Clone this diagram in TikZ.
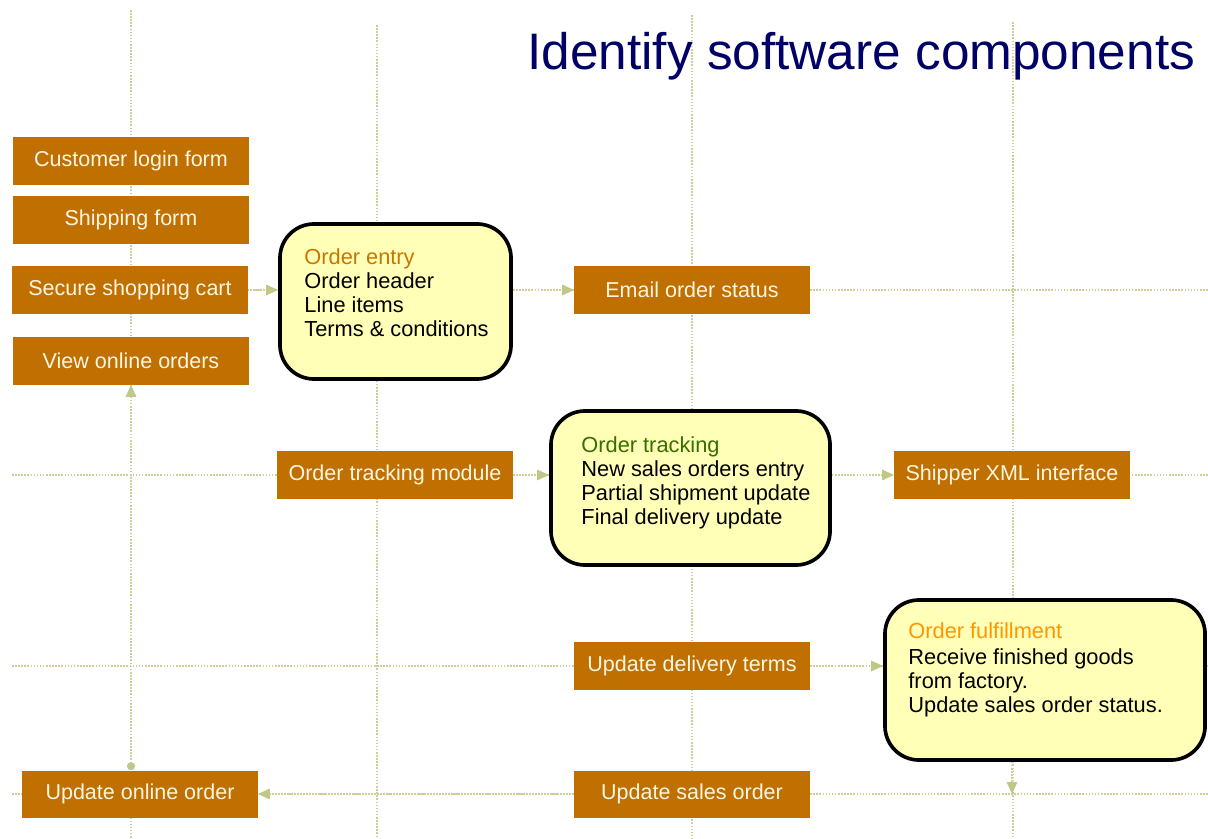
\documentclass[tikz,border=0pt]{standalone}
\usepackage{fontspec}
\setmainfont{Liberation Sans}
\usetikzlibrary{arrows.meta,positioning}

\definecolor{boxorange}{RGB}{192,112,0}
\definecolor{boxtext}{RGB}{255,246,226}
\definecolor{paleyellow}{RGB}{255,255,184}
\definecolor{gridolive}{RGB}{206,206,150}
\definecolor{tipolive}{RGB}{192,200,135}
\definecolor{titlenavy}{RGB}{0,0,102}
\definecolor{entryorange}{RGB}{200,118,0}
\definecolor{trackgreen}{RGB}{55,110,0}
\definecolor{fulfilorange}{RGB}{255,150,0}

\begin{document}
\begin{tikzpicture}[x=0.025cm,y=-0.025cm,
    oliveTip/.tip={Triangle[length=0.3cm,width=0.26cm,color=tipolive]},
    oliveDot/.tip={Circle[length=0.2cm,color=tipolive]},
    component/.style={fill=boxorange,text=boxtext,minimum width=5.875cm,
      minimum height=1.175cm,inner sep=0pt,font=\fontsize{15.3}{18}\selectfont},
    module/.style={draw=black,line width=2.6pt,fill=paleyellow,rounded corners=0.85cm},
    moduletext/.style={inner sep=0pt,align=left,font=\fontsize{15.5}{17.2}\selectfont},
    gridline/.style={draw=gridolive,line width=1.2pt,dash pattern=on 1.1pt off 1.1pt},
    flow/.style={gridline,-{oliveTip}}]

  \useasboundingbox (0,0) rectangle (1208,839);

  % dotted grid behind everything
  \foreach \gx/\gtop in {131/10,377/25,692/15,1013/22}
    \draw[gridline] (\gx,\gtop) -- (\gx,839);
  \foreach \gy in {290,475,666,794}
    \draw[gridline] (12,\gy) -- (1208,\gy);

  \node[anchor=base east,text=titlenavy,font=\fontsize{36.5}{40}\selectfont]
    (title) at (1200,70) {Identify software components};

  % components
  \node[component] (login) at (131,161) {Customer login form};
  \node[component] (shipform) at (131,220) {Shipping form};
  \node[component] (cart) at (130,290) {Secure shopping cart};
  \node[component] (viewonline) at (131,361) {View online orders};
  \node[component] (trackmod) at (395,475) {Order tracking module};
  \node[component] (email) at (692,290) {Email order status};
  \node[component] (shipxml) at (1012,475) {Shipper XML interface};
  \node[component] (delivery) at (692,666) {Update delivery terms};
  \node[component] (salesorder) at (692,794) {Update sales order};
  \node[component] (updonline) at (140,794) {Update online order};

  % modules
  \node[module,minimum width=5.775cm,minimum height=3.875cm] (entry) at (395.5,301.5) {};
  \node[moduletext,below right=0.65cm and 0.65cm of entry.north west]
    (entrytext) {\textcolor{entryorange}{Order entry}\\ Order header\\ Line items\\
     Terms \& conditions};

  \node[module,minimum width=6.975cm,minimum height=3.85cm] (tracking) at (690.5,488) {};
  \node[moduletext,below right=0.675cm and 0.8cm of tracking.north west]
    (trackingtext) {\textcolor{trackgreen}{Order tracking}\\ New sales orders entry\\
     Partial shipment update\\ Final delivery update};

  \node[module,minimum width=8cm,minimum height=4cm] (fulfil) at (1045,680) {};
  \node[moduletext,below right=0.6cm and 0.625cm of fulfil.north west]
    (fulfiltext) {\textcolor{fulfilorange}{Order fulfillment}\\[1.5pt] Receive finished goods\\
     from factory.\\ Update sales order status.};

  % connectors
  \draw[flow] (cart.east) -- (cart.east -| entry.west);
  \draw[flow] (entry.east |- email) -- (email.west);
  \draw[flow] (trackmod.east) -- (trackmod.east -| tracking.west);
  \draw[flow] (tracking.east |- shipxml) -- (shipxml.west);
  \draw[flow] (delivery.east) -- (delivery.east -| fulfil.west);
  \draw[flow] (salesorder.west) -- (updonline.east);
  \draw[flow] (fulfil.south -| shipxml) -- (salesorder -| shipxml);
  \draw[gridline,{oliveDot}-{oliveTip}] (updonline.north -| viewonline) -- (viewonline.south);
\end{tikzpicture}
\end{document}
